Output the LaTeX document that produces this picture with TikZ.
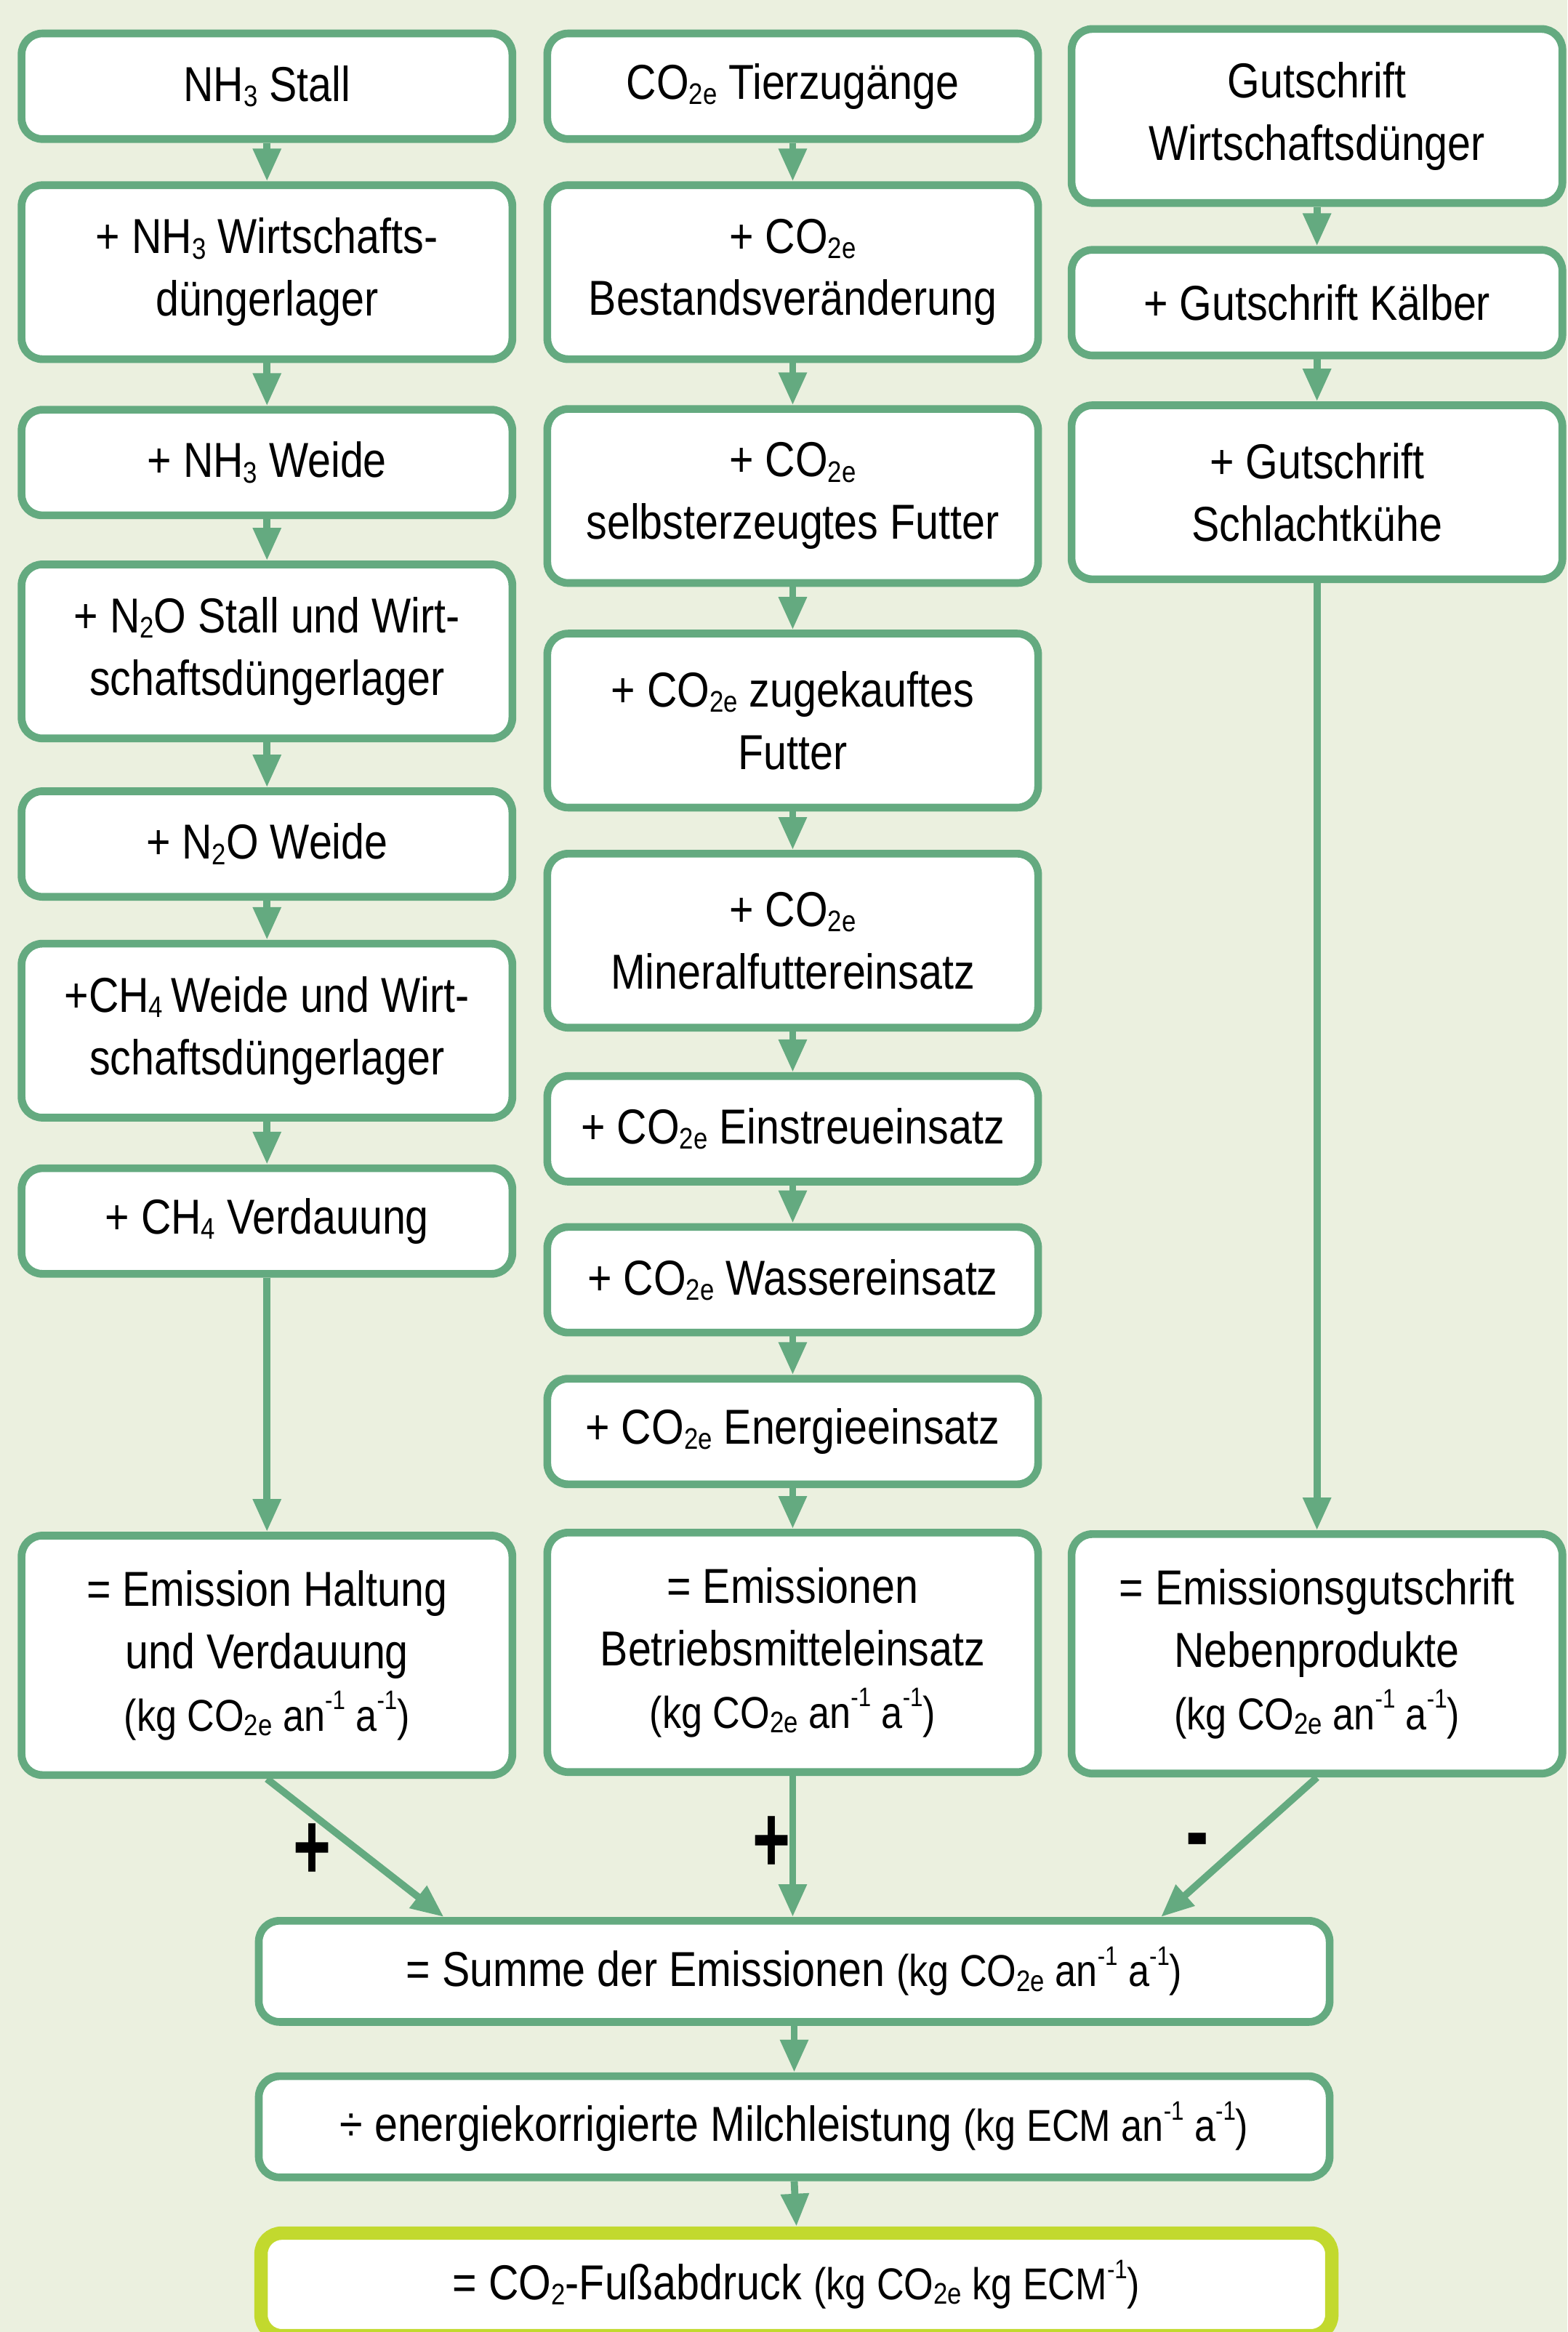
\documentclass[tikz,border=0pt]{standalone}
\usepackage{fontspec}
\setmainfont{Liberation Sans}[FakeStretch=0.85]
\usepackage{graphicx}
\usetikzlibrary{arrows.meta}
\definecolor{bgc}{RGB}{235,240,223}
\definecolor{gr}{RGB}{100,170,128}
\definecolor{yg}{RGB}{194,217,46}
\newcommand\sbs[1]{\raisebox{-0.2ex}{\fontsize{10}{10}\selectfont #1}}
\newcommand\sps[1]{\raisebox{0.9ex}{\fontsize{9}{10}\selectfont #1}}
\newcommand\unitfont{\fontsize{15}{21}\selectfont}
\newcommand\unitline{{\unitfont(kg CO\sbs{2e} an\sps{-1} a\sps{-1})}}
\begin{document}
\begin{tikzpicture}[x=0.5pt,y=-0.5pt,
  bx/.style={draw=gr, line width=2.6pt, fill=white, rounded corners=7pt, align=center,
    inner sep=0pt, minimum width=165pt, font=\fontsize{16.5}{21}\selectfont},
  h1/.style={minimum height=35.5pt},
  h2/.style={minimum height=58.5pt},
  h3/.style={minimum height=80.5pt},
  wide/.style={minimum width=360pt},
  arr/.style={draw=gr, line width=2.4pt, -{Triangle[width=9pt,length=11pt]}},
  sign/.style={font=\fontsize{32}{32}\selectfont\bfseries, inner sep=0pt}]
\useasboundingbox (0,0) rectangle (1054,1568);
\fill[bgc] (0,0) rectangle (1054,1568);
% column 1
\node[bx,h1] (a1) at (179.5,58) {NH\sbs{3} Stall};
\node[bx,h2] (a2) at (179.5,183) {+ NH\sbs{3} Wirtschafts-\\düngerlager};
\node[bx,h1] (a3) at (179.5,311) {+ NH\sbs{3} Weide};
\node[bx,h2] (a4) at (179.5,438) {+ N\sbs{2}O Stall und Wirt-\\schaftsdüngerlager};
\node[bx,h1] (a5) at (179.5,567.5) {+ N\sbs{2}O Weide};
\node[bx,h2] (a6) at (179.5,693) {+CH\sbs{4}\,Weide und Wirt-\\schaftsdüngerlager};
\node[bx,h1] (a7) at (179.5,821) {+ CH\sbs{4} Verdauung};
\node[bx,h3] (a8) at (179.5,1113) {= Emission Haltung\\und Verdauung\\\unitline};
% column 2
\node[bx,h1] (b1) at (533,58) {CO\sbs{2e} Tierzugänge};
\node[bx,h2] (b2) at (533,183) {+ CO\sbs{2e}\\Bestandsveränderung};
\node[bx,h2] (b3) at (533,333.5) {+ CO\sbs{2e}\\selbsterzeugtes Futter};
\node[bx,h2] (b4) at (533,484.5) {+ CO\sbs{2e} zugekauftes\\Futter};
\node[bx,h2] (b5) at (533,632.5) {+ CO\sbs{2e}\\Mineralfuttereinsatz};
\node[bx,h1] (b6) at (533,759) {+ CO\sbs{2e} Einstreueinsatz};
\node[bx,h1] (b7) at (533,860.5) {+ CO\sbs{2e} Wassereinsatz};
\node[bx,h1] (b8) at (533,962.5) {+ CO\sbs{2e} Energieeinsatz};
\node[bx,h3] (b9) at (533,1111) {= Emissionen\\Betriebsmitteleinsatz\\\unitline};
% column 3
\node[bx,h2] (c1) at (885.5,78) {Gutschrift\\Wirtschaftsdünger};
\node[bx,h1] (c2) at (885.5,203.5) {+ Gutschrift Kälber};
\node[bx,h2] (c3) at (885.5,331) {+ Gutschrift\\Schlachtkühe};
\node[bx,h3] (c4) at (885.5,1112) {= Emissionsgutschrift\\Nebenprodukte\\\unitline};
% bottom
\node[bx,wide,minimum height=34pt] (s1) at (534,1325.5) {= Summe der Emissionen \unitline};
\node[bx,wide,minimum height=34pt] (s2) at (534,1430) {÷ energiekorrigierte Milchleistung {\unitfont(kg ECM an\sps{-1} a\sps{-1})}};
\node[bx,wide,minimum height=34.5pt,draw=yg,line width=4.5pt] (s3) at (535.5,1536) {= CO\sbs{2}-Fußabdruck {\unitfont(kg CO\sbs{2e} kg ECM\sps{-1})}};
% arrows
\foreach \u/\v in {a1/a2,a2/a3,a3/a4,a4/a5,a5/a6,a6/a7,a7/a8,
  b1/b2,b2/b3,b3/b4,b4/b5,b5/b6,b6/b7,b7/b8,b8/b9,
  c1/c2,c2/c3,c3/c4,s1/s2,s2/s3}
  \draw[arr] (\u.south) -- (\v.north);
\path (s1.north west) ++(127,0) coordinate (sA);
\path (s1.north east) ++(-116,0) coordinate (sC);
\draw[arr] (a8.south) -- (sA);
\draw[arr] (b9.south) -- (b9.south |- s1.north);
\draw[arr] (c4.south) -- (sC);
% signs
\node[sign] (p1) at (210,1245) {\scalebox{0.8}[1]{+}};
\node[sign] (p2) at (519,1240) {\scalebox{0.8}[1]{+}};
\node[sign] (m3) at (805,1243) {\scalebox{0.85}[1]{-}};
\end{tikzpicture}
\end{document}
